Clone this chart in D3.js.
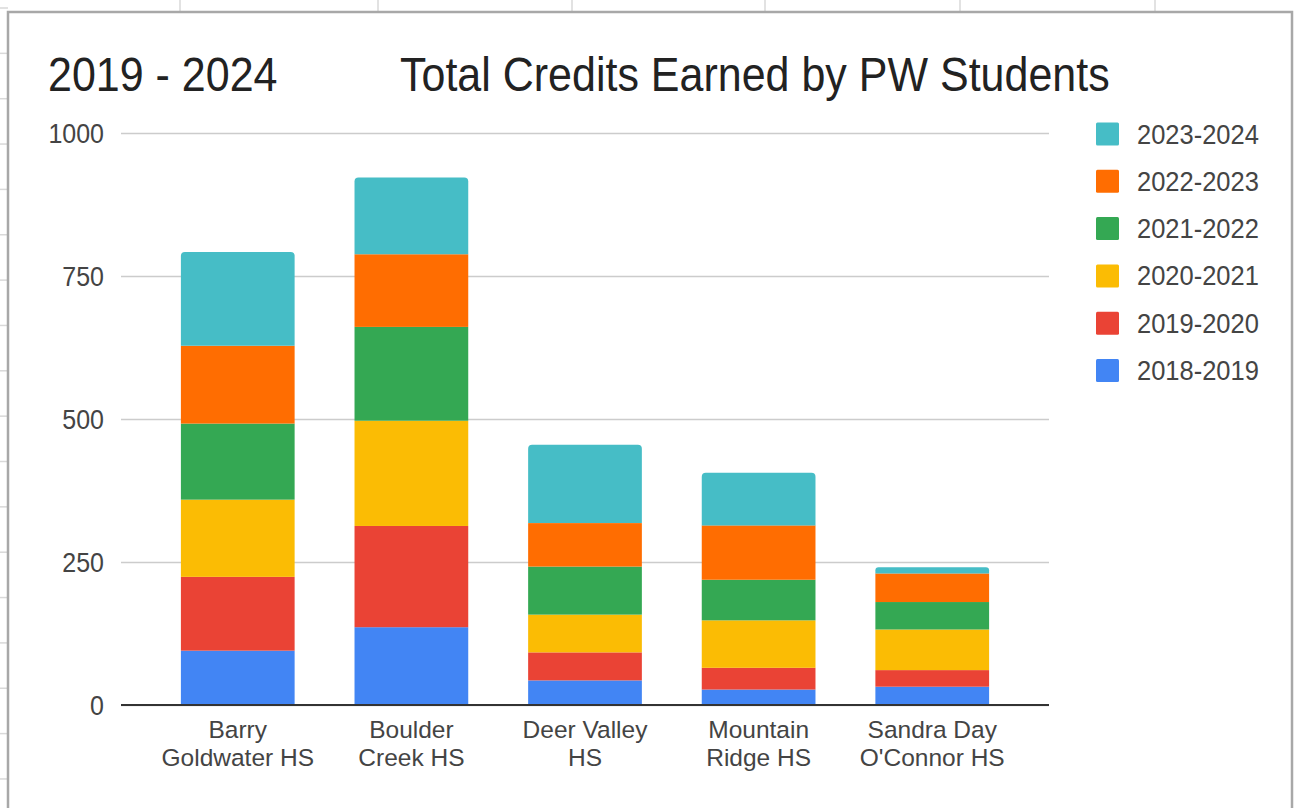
<!DOCTYPE html>
<html>
<head>
<meta charset="utf-8">
<script src="https://cdn.jsdelivr.net/npm/d3@7"></script>
<style>
  html, body { margin: 0; padding: 0; background: #fff; }
  svg { display: block; }
  text { font-family: Arial, "Liberation Sans", sans-serif; }
</style>
</head>
<body>
<svg id="chart" width="1299" height="808"></svg>
<script>
// ---- data ----
const schools = ["Barry\nGoldwater HS", "Boulder\nCreek HS", "Deer Valley\nHS", "Mountain\nRidge HS", "Sandra Day\nO'Connor HS"];
const seriesNames = ["2018-2019", "2019-2020", "2020-2021", "2021-2022", "2022-2023", "2023-2024"];
const v2018_2019 = [95, 136, 43, 27, 32];
const v2019_2020 = [129, 177, 49, 38, 29];
const v2020_2021 = [135, 184, 66, 83, 71];
const v2021_2022 = [133, 164, 84, 71, 48];
const v2022_2023 = [136, 127, 76, 95, 50];
const v2023_2024 = [164, 134, 137, 92, 11];
const seriesColors = ["#4285F4", "#EA4335", "#FBBC04", "#34A853", "#FF6D01", "#46BDC6"];
const yTicks = [0, 250, 500, 750, 1000];
const titleLeft = "2019 - 2024";
const titleMain = "Total Credits Earned by PW Students";

const seriesValues = [v2018_2019, v2019_2020, v2020_2021, v2021_2022, v2022_2023, v2023_2024];
const rows = schools.map((s, i) => {
  const r = { school: s };
  seriesNames.forEach((n, k) => r[n] = seriesValues[k][i]);
  return r;
});

const K = 1.12; // vertical stretch of text seen in the reference
function stretchedText(parent, x, y, str, size, fill, anchor, k) {
  return parent.append("text")
    .attr("transform", `translate(${x},${y}) scale(1,${k || K})`)
    .attr("x", 0).attr("y", 0)
    .attr("font-size", size).attr("fill", fill)
    .attr("text-anchor", anchor || "start")
    .text(str);
}

const svg = d3.select("#chart");

// ---- spreadsheet background ----
const sheet = svg.append("g");
const colLines = [180, 378, 572, 765, 960, 1155];
colLines.forEach(x => sheet.append("line").attr("x1", x).attr("x2", x).attr("y1", 0).attr("y2", 12)
  .attr("stroke", "#d9d9d9").attr("stroke-width", 1.5));
d3.range(8, 808, 45.35).forEach(y => sheet.append("line").attr("x1", 0).attr("x2", 8).attr("y1", y).attr("y2", y)
  .attr("stroke", "#d9d9d9").attr("stroke-width", 1.5));
// chart frame
svg.append("rect").attr("x", 8).attr("y", 12).attr("width", 1284).attr("height", 820)
  .attr("fill", "#fff").attr("stroke", "#a8a8a8").attr("stroke-width", 2.5);

// ---- scales ----
const x = d3.scaleBand().domain(schools).range([121, 1049]).padding(0.345);
const y = d3.scaleLinear().domain([0, 1000]).range([705, 133]);
const color = d3.scaleOrdinal().domain(seriesNames).range(seriesColors);

// ---- gridlines ----
const grid = svg.append("g").attr("transform", "translate(121,0)")
  .call(d3.axisLeft(y).tickValues(yTicks).tickSize(-928).tickFormat(""));
grid.select(".domain").remove();
grid.selectAll(".tick line").attr("stroke", "#cccccc").attr("stroke-width", 1.3);

// y labels
const yl = svg.append("g").attr("transform", "translate(104,0)")
  .call(d3.axisLeft(y).tickValues(yTicks).tickSize(0).tickPadding(0).tickFormat(d3.format("d")));
yl.select(".domain").remove();
yl.selectAll(".tick text").attr("font-size", 25).attr("fill", "#444")
  .attr("font-family", "Arial, 'Liberation Sans', sans-serif").attr("dy", "0.35em")
  .attr("transform", `scale(1,${K})`);

// ---- stacked bars ----
const stack = d3.stack().keys(seriesNames)(rows);
const topIdx = seriesNames.length - 1;
const r = 4;
stack.forEach((layer, li) => {
  const g = svg.append("g").attr("fill", color(layer.key));
  layer.forEach(d => {
    const x0 = x(d.data.school), w = x.bandwidth();
    const yt = y(d[1]), yb = y(d[0]);
    if (li === topIdx) {
      const h = yb - yt;
      const rr = Math.min(r, h / 2, w / 2);
      g.append("path").attr("d",
        `M${x0},${yb}V${yt + rr}Q${x0},${yt} ${x0 + rr},${yt}H${x0 + w - rr}Q${x0 + w},${yt} ${x0 + w},${yt + rr}V${yb}Z`);
    } else {
      g.append("rect").attr("x", x0).attr("y", yt).attr("width", w).attr("height", yb - yt);
    }
  });
});

// baseline
svg.append("line").attr("x1", 121).attr("x2", 1049).attr("y1", y(0)).attr("y2", y(0))
  .attr("stroke", "#333").attr("stroke-width", 2);

// ---- x labels ----
const xa = svg.append("g").attr("transform", `translate(0,${y(0)})`)
  .call(d3.axisBottom(x).tickSize(0).tickPadding(0));
xa.select(".domain").remove();
xa.selectAll(".tick text").remove();
xa.selectAll(".tick").each(function(d) {
  const t = d3.select(this);
  d.split("\n").forEach((line, i) => {
    stretchedText(t, 0, 33 + i * 27.5, line, 24.5, "#444", "middle", 1);
  });
});

// ---- titles ----
stretchedText(svg, 48, 91, titleLeft, 43, "#222");
stretchedText(svg, 400, 91, titleMain, 43, "#222");

// ---- legend ----
const legend = svg.append("g");
seriesNames.slice().reverse().forEach((n, i) => {
  const cy = 134 + i * 47.3;
  legend.append("rect").attr("x", 1096).attr("y", cy - 11.5).attr("width", 23).attr("height", 23)
    .attr("rx", 1.5).attr("fill", color(n));
  stretchedText(legend, 1137, cy + 9.5, n, 25.5, "#444");
});
</script>
</body>
</html>
